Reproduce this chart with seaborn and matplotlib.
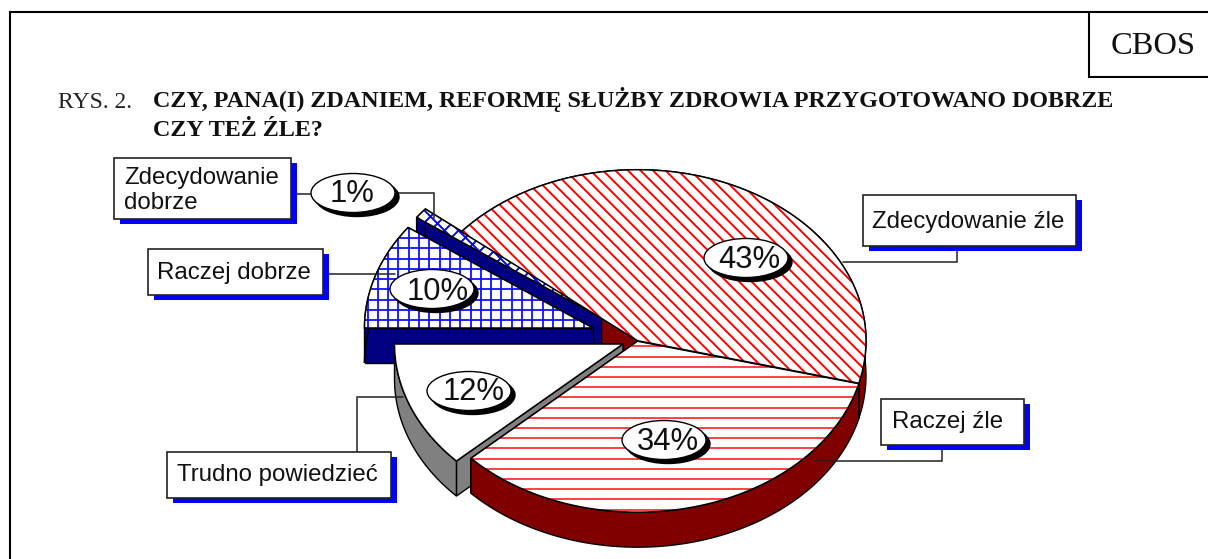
import numpy as np
import matplotlib
matplotlib.use("Agg")
import matplotlib.pyplot as plt
import seaborn as sns
from matplotlib.collections import LineCollection
from matplotlib.patches import Ellipse, Polygon, Rectangle

# Answers, counter-clockwise from the right-hand edge of the pie
categories = ["Zdecydowanie źle", "Zdecydowanie\ndobrze", "Raczej dobrze", "Trudno powiedzieć", "Raczej źle"]
shares = [43, 1, 10, 12, 34]

title_prefix = "RYS. 2."
title_lines = ["CZY, PANA(I) ZDANIEM, REFORMĘ SŁUŻBY ZDROWIA PRZYGOTOWANO DOBRZE", "CZY TEŻ ŹLE?"]
source_label = "CBOS"

sns.set_theme(style="white")
plt.rcParams["font.family"] = ["Liberation Sans", "DejaVu Sans"]

W, H = 1208, 559
RX, RY, DEPTH = 228.5, 171, 35
START = -14.4

fig = plt.figure(figsize=(W / 100, H / 100), dpi=100)
ax = fig.add_axes([0, 0, 1, 1])
ax.set_xlim(0, W)
ax.set_ylim(H, 0)
ax.axis("off")

# slice centres after the explosion, in pixels
centres = [(637.5, 340.7), (601.5, 318), (593, 328), (623, 344), (637.5, 341.2)]
walls = ["#800000", "#000080", "#000080", "#808080", "#800000"]

edges = START + np.concatenate([[0], np.cumsum(shares)]) * 3.6


def arc(i, n=120):
    t = np.radians(np.linspace(edges[i], edges[i + 1], n))
    cx, cy = centres[i]
    return np.column_stack([cx + RX * np.cos(t), cy - RY * np.sin(t)])


def draw_wall(i, z):
    pts = arc(i)
    c = np.array(centres[i])
    down = np.array([0, DEPTH])
    for a, b in [(c, pts[0]), (c, pts[-1])]:
        ax.add_patch(Polygon([a, b, b + down, a + down], fc=walls[i], ec="black", lw=1, zorder=z))
    band = np.vstack([pts, (pts + down)[::-1]])
    ax.add_patch(Polygon(band, fc=walls[i], ec="black", lw=1, zorder=z))


def draw_top(i, z):
    poly = np.vstack([[centres[i]], arc(i)])
    top = Polygon(poly, fc="white", ec="none", zorder=z)
    ax.add_patch(top)
    return top


def outline(i, z):
    poly = np.vstack([[centres[i]], arc(i)])
    ax.add_patch(Polygon(poly, fc="none", ec="black", lw=1.1, zorder=z))


def hatch(patch, z, color, lw, horiz=None, vert=None, fall=None, rise=None):
    segs = []
    if horiz:
        segs += [[(0, y), (W, y)] for y in np.arange(horiz[1], H, horiz[0])]
    if vert:
        segs += [[(x, 0), (x, H)] for x in np.arange(vert[1], W, vert[0])]
    if fall:
        segs += [[(x, 0), (x + H, H)] for x in np.arange(fall[1] - H, W, fall[0])]
    if rise:
        segs += [[(x, 0), (x - H, H)] for x in np.arange(rise[1], W + H, rise[0])]
    lc = LineCollection(segs, colors=color, linewidths=lw, zorder=z)
    ax.add_collection(lc)
    lc.set_clip_path(patch)


# painter's order, back to front
draw_wall(0, 2)

draw_wall(1, 3)
top = draw_top(1, 3.1)
hatch(top, 3.2, "#0000ff", 1.4, fall=(14, 3), rise=(14, 3))
outline(1, 3.3)

draw_wall(2, 4)
top = draw_top(2, 4.1)
hatch(top, 4.2, "#1010ff", 1.3, horiz=(10.3, 1), vert=(10.3, 7))
outline(2, 4.3)

draw_wall(3, 5)
draw_top(3, 5.1)
outline(3, 5.3)

draw_wall(4, 6)
top = draw_top(4, 6.1)
hatch(top, 6.2, "#ff2020", 1.2, horiz=(10.2, 9.8))
outline(4, 6.3)

top = draw_top(0, 7.1)
hatch(top, 7.2, "#ff0000", 1.4, fall=(12.5, 4))
outline(0, 7.3)

# leader lines
leaders = [
    [(843, 262), (957, 262), (957, 246)],
    [(291, 194), (316, 194)],
    [(398, 193), (433.5, 193), (433.5, 218)],
    [(327, 274), (395, 274)],
    [(403, 397), (357, 397), (357, 452)],
    [(815, 461), (942, 461), (942, 445)],
]
for pts in leaders:
    xs, ys = zip(*pts)
    ax.plot(xs, ys, color="#222222", lw=1.1, zorder=8, solid_joinstyle="miter")

# value ovals
oval_xy = [(746, 258), (353, 193), (432, 289), (469, 391), (664, 440)]
oval_text_xy = [(749.5, 260), (352, 193.5), (438, 291.5), (474, 392), (668, 442)]
for (x, y), (tx, ty), v in zip(oval_xy, oval_text_xy, shares):
    ax.add_patch(Ellipse((x + 4, y + 4), 84, 39, fc="black", ec="black", zorder=9))
    ax.add_patch(Ellipse((x, y), 84, 39, fc="white", ec="black", lw=1, zorder=9.1))
    ax.text(tx, ty, f"{v}%", fontsize=22.3, ha="center", va="center", color="#111111", zorder=9.2)

# category boxes: x0, y0, x1, y1
boxes = [(863, 195, 1076, 246), (113.5, 158, 291, 219), (148, 249, 323, 295), (167, 452, 391, 498), (881, 399, 1024, 445)]
text_x = [872, 124, 157, 177, 892]
text_y = [222, 190.5, 273.5, 475.5, 422]
for (x0, y0, x1, y1), tx, ty, name in zip(boxes, text_x, text_y, categories):
    ax.add_patch(Rectangle((x0 + 6, y0 + 5), x1 - x0, y1 - y0, fc="#0000ff", ec="none", zorder=10))
    ax.add_patch(Rectangle((x0, y0), x1 - x0, y1 - y0, fc="white", ec="#222222", lw=1.2, zorder=10.1))
    ax.text(tx, ty, name, fontsize=17.3, ha="left", va="center", color="#111111",
            linespacing=1.23, zorder=10.2)

# page frame and the CBOS tab
ax.plot([10, 10, W], [H, 12, 12], color="black", lw=1.5, zorder=11, solid_joinstyle="miter")
ax.plot([1089, 1089, W], [12, 77, 77], color="black", lw=1.5, zorder=11, solid_joinstyle="miter")
ax.text(1153.5, 46, source_label, family="Liberation Serif", fontsize=23.4, ha="center", va="center", color="#111111")

ax.text(58, 107.5, title_prefix, family="Liberation Serif", fontsize=17, ha="left", va="baseline", color="#222222")
ax.text(153, 107.5, title_lines[0], family="Liberation Serif", weight="bold", fontsize=17.4, ha="left", va="baseline", color="#111111")
ax.text(153, 136, title_lines[1], family="Liberation Serif", weight="bold", fontsize=17.4, ha="left", va="baseline", color="#111111")

fig.savefig("out.png", dpi=100)
